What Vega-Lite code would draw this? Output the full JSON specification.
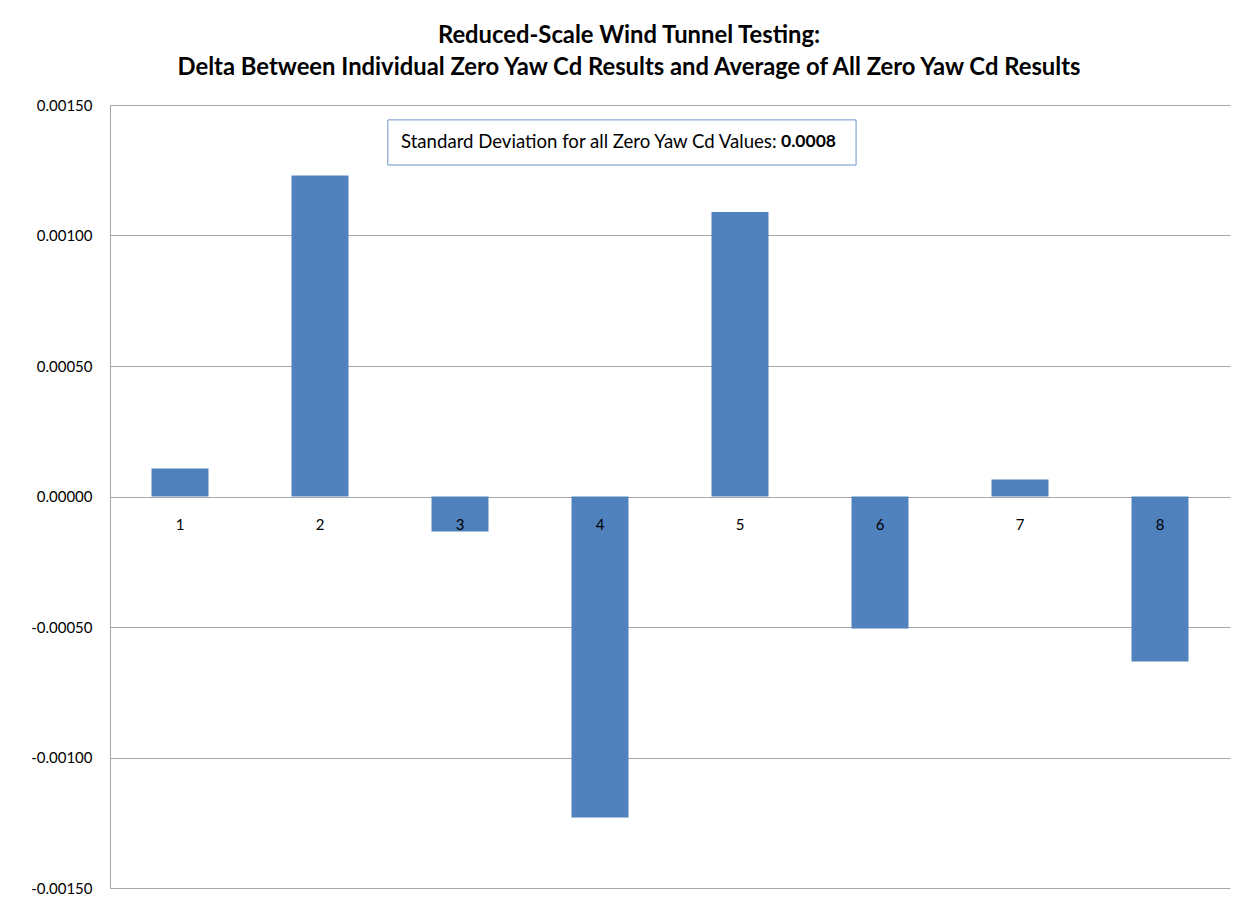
{
  "$schema": "https://vega.github.io/schema/vega-lite/v6.json",
  "width": 1120,
  "height": 783,
  "autosize": {"type": "none"},
  "padding": {"left": 110, "top": 105, "right": 18, "bottom": 17},
  "background": "white",
  "config": {"view": {"stroke": null}, "font": "Lato"},
  "title": {
    "text": ["Reduced-Scale Wind Tunnel Testing:", "Delta Between Individual Zero Yaw Cd Results and Average of All Zero Yaw Cd Results"],
    "fontSize": 23.8,
    "fontWeight": "bold",
    "font": "Lato",
    "color": "black",
    "anchor": "middle",
    "frame": "group",
    "dx": -41,
    "offset": 18,
    "lineHeight": 32
  },
  "data": {
    "values": [
      {"run": "1", "delta": 0.000107},
      {"run": "2", "delta": 0.00123},
      {"run": "3", "delta": -0.000134},
      {"run": "4", "delta": -0.00123},
      {"run": "5", "delta": 0.00109},
      {"run": "6", "delta": -0.000506},
      {"run": "7", "delta": 0.000065},
      {"run": "8", "delta": -0.000632}
    ]
  },
  "layer": [
    {
      "mark": {"type": "bar", "color": "#4f81bd"},
      "encoding": {
        "x": {"field": "run", "type": "ordinal", "scale": {"paddingInner": 0.593, "paddingOuter": 0.2965}, "axis": null},
        "y": {
          "field": "delta",
          "type": "quantitative",
          "scale": {"domain": [-0.0015, 0.0015], "nice": false},
          "axis": {
            "values": [-0.0015, -0.001, -0.0005, 0, 0.0005, 0.001, 0.0015],
            "format": ".5f",
            "labelExpr": "replace(datum.label, '\u2212', '-')",
            "grid": true,
            "gridColor": "#a6a6a6",
            "domainColor": "#a6a6a6",
            "ticks": false,
            "labelPadding": 18,
            "labelFontSize": 15,
            "labelFont": "Lato",
            "labelColor": "#000000",
            "labelFlush": false,
            "title": null
          }
        }
      }
    },
    {
      "mark": {"type": "text", "dy": 28, "fontSize": 15, "baseline": "middle", "color": "#000000"},
      "encoding": {
        "x": {"field": "run", "type": "ordinal"},
        "y": {"datum": 0},
        "text": {"field": "run"}
      }
    },
    {
      "data": {"values": [{"label": "Standard Deviation for all Zero Yaw Cd Values:", "sd": "0.0008"}]},
      "layer": [
        {
          "mark": {"type": "rect", "fill": "white", "stroke": "#6f93c8", "strokeWidth": 1},
          "encoding": {
            "x": {"datum": "2", "bandPosition": 1.69},
            "x2": {"datum": "6", "bandPosition": 0.08},
            "y": {"datum": 0.001443},
            "y2": {"datum": 0.00127}
          }
        },
        {
          "mark": {"type": "text", "align": "left", "baseline": "middle", "fontSize": 18.6, "color": "#000000"},
          "encoding": {
            "x": {"datum": "3", "bandPosition": -0.535},
            "y": {"datum": 0.001358},
            "text": {"field": "label"}
          }
        },
        {
          "mark": {"type": "text", "align": "left", "baseline": "middle", "fontSize": 17.5, "fontWeight": "bold", "color": "#000000"},
          "encoding": {
            "x": {"datum": "6", "bandPosition": -1.237},
            "y": {"datum": 0.001358},
            "text": {"field": "sd"}
          }
        }
      ]
    }
  ]
}
